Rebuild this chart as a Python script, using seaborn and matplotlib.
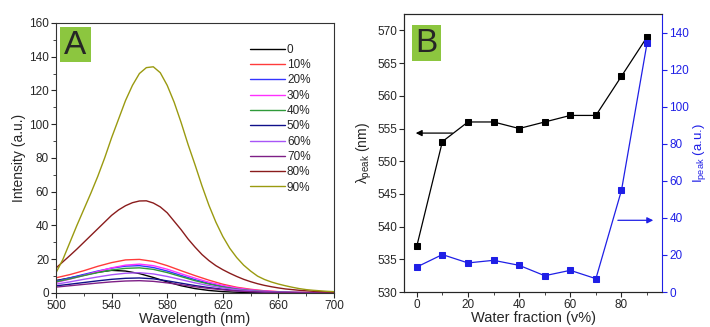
import numpy as np
import pandas as pd
import seaborn as sns
import matplotlib.pyplot as plt
from matplotlib.patches import Rectangle
from matplotlib.ticker import MultipleLocator

# panel A: emission spectra
# weaker curves at 10 nm steps
wavelength = [500, 510, 520, 530, 540, 550, 560, 570, 580, 590, 600,
              610, 620, 630, 640, 650, 660, 670, 680, 690, 700]
w0 = [7.4, 8.9, 10.6, 12.3, 13.4, 13.0, 11.5, 9.2, 6.6, 4.3, 2.6,
      1.5, 0.8, 0.45, 0.25, 0.15, 0.1, 0.07, 0.05, 0.04, 0.03]
w10 = [9.0, 10.9, 13.2, 15.8, 18.0, 19.6, 19.9, 18.7, 16.2, 13.2, 10.3,
       7.6, 5.2, 3.4, 2.2, 1.3, 0.8, 0.5, 0.3, 0.2, 0.1]
w20 = [7.0, 9.0, 11.0, 13.0, 14.7, 15.9, 16.2, 15.1, 13.0, 10.4, 7.9,
       5.7, 3.9, 2.5, 1.6, 0.95, 0.6, 0.35, 0.22, 0.14, 0.08]
w30 = [6.3, 8.2, 10.4, 12.7, 14.9, 16.5, 17.1, 16.2, 14.1, 11.4, 8.8,
       6.4, 4.5, 3.0, 1.9, 1.2, 0.7, 0.45, 0.28, 0.17, 0.1]
w40 = [6.6, 8.4, 10.3, 12.1, 13.6, 14.6, 14.9, 14.0, 12.1, 9.7, 7.3,
       5.3, 3.6, 2.3, 1.5, 0.9, 0.55, 0.33, 0.2, 0.12, 0.07]
w50 = [4.2, 5.2, 6.2, 7.2, 8.1, 8.7, 8.9, 8.4, 7.2, 5.8, 4.4,
       3.2, 2.2, 1.4, 0.9, 0.55, 0.33, 0.2, 0.12, 0.07, 0.04]
w60 = [5.2, 6.6, 8.1, 9.5, 10.8, 11.7, 12.0, 11.3, 9.8, 7.9, 6.0,
       4.4, 3.0, 2.0, 1.3, 0.8, 0.5, 0.3, 0.18, 0.1, 0.06]
w70 = [3.5, 4.3, 5.1, 5.9, 6.6, 7.1, 7.3, 6.9, 6.0, 4.9, 3.7,
       2.7, 1.9, 1.2, 0.8, 0.5, 0.3, 0.18, 0.1, 0.06, 0.04]

# strong curves at 5 nm steps
wavelength_fine = [500, 505, 510, 515, 520, 525, 530, 535, 540, 545, 550,
                   555, 560, 565, 570, 575, 580, 585, 590, 595, 600,
                   605, 610, 615, 620, 625, 630, 635, 640, 645, 650,
                   655, 660, 665, 670, 675, 680, 685, 690, 695, 700]
w80 = [14.8, 18.5, 22.2, 26.0, 30.0, 34.0, 38.0, 42.0, 46.0, 49.2, 51.7,
       53.5, 54.5, 54.6, 53.3, 51.0, 47.5, 42.5, 37.5, 32.0, 27.2,
       22.8, 19.2, 16.2, 13.8, 11.7, 9.8, 8.1, 6.7, 5.5, 4.5,
       3.7, 3.0, 2.4, 2.0, 1.6, 1.3, 1.0, 0.8, 0.65, 0.5]
w90 = [12.0, 20.0, 30.0, 40.0, 49.5, 59.0, 69.0, 80.0, 92.0, 103.0, 114.0,
       123.0, 130.0, 133.5, 134.0, 130.5, 123.0, 113.0, 101.0, 88.0, 76.0,
       63.5, 52.0, 42.0, 33.5, 26.5, 21.0, 16.5, 13.0, 10.0, 8.0,
       6.5, 5.3, 4.3, 3.4, 2.6, 2.0, 1.6, 1.3, 1.0, 0.8]

labels = ["0", "10%", "20%", "30%", "40%", "50%", "60%", "70%", "80%", "90%"]
colors = ["#000000", "#ff3b3b", "#3434ff", "#ff30ff", "#2f9a3a",
          "#10108a", "#a855f7", "#7e1f86", "#8a1c1c", "#9a9a10"]
spectra = [w0, w10, w20, w30, w40, w50, w60, w70, w80, w90]
grids = [wavelength] * 8 + [wavelength_fine] * 2

# panel B: peak position and intensity vs water fraction
water = [0, 10, 20, 30, 40, 50, 60, 70, 80, 90]
lam_peak = [537, 553, 556, 556, 555, 556, 557, 557, 563, 569]
i_peak = [13.5, 20.2, 15.7, 17.1, 14.4, 8.8, 11.7, 7.2, 54.9, 134.4]

rows = []
for lab, grid, vals in zip(labels, grids, spectra):
    for wl, v in zip(grid, vals):
        rows.append((wl, v, lab))
df = pd.DataFrame(rows, columns=["wavelength", "intensity", "water"])
dfb = pd.DataFrame({"water": water, "lam": lam_peak, "ipk": i_peak})

sns.set_style("ticks")
plt.rcParams["font.family"] = ["Liberation Sans", "DejaVu Sans"]
plt.rcParams["mathtext.fontset"] = "custom"
plt.rcParams["mathtext.rm"] = "Liberation Sans"
plt.rcParams["mathtext.it"] = "Liberation Sans"

fig = plt.figure(figsize=(7.1, 3.27), dpi=100)
axA = fig.add_axes([0.0789, 0.104, 0.3915, 0.826])
axB = fig.add_axes([0.569, 0.107, 0.364, 0.85])

sns.lineplot(data=df, x="wavelength", y="intensity", hue="water", hue_order=labels,
             palette=colors, linewidth=1.0, ax=axA)
axA.set_xlim(500, 700)
axA.set_ylim(0, 160)
axA.set_xticks([500, 540, 580, 620, 660, 700])
axA.xaxis.set_minor_locator(MultipleLocator(20))
axA.yaxis.set_major_locator(MultipleLocator(20))
axA.yaxis.set_minor_locator(MultipleLocator(10))
axA.set_xlabel("Wavelength (nm)", fontsize=10.5, labelpad=0)
axA.set_ylabel("Intensity (a.u.)", fontsize=10, labelpad=2)
leg = axA.legend(loc="upper left", bbox_to_anchor=(0.68, 0.94), frameon=False,
                 fontsize=8.5, handlelength=3.0, handletextpad=0.15,
                 labelspacing=0.28, borderaxespad=0)
axA.add_patch(Rectangle((0.014, 0.856), 0.112, 0.129, transform=axA.transAxes,
                        facecolor="#8cc63f", edgecolor="none", zorder=5))
axA.text(0.07, 0.918, "A", transform=axA.transAxes, ha="center", va="center",
         fontsize=24, zorder=6)

sns.lineplot(data=dfb, x="water", y="lam", color="black", marker="s",
             markersize=4, markeredgecolor="black", linewidth=0.9, ax=axB)
axB.set_xlim(-5, 96)
axB.set_ylim(530, 572.5)
axB.xaxis.set_major_locator(MultipleLocator(20))
axB.xaxis.set_minor_locator(MultipleLocator(10))
axB.yaxis.set_major_locator(MultipleLocator(5))
axB.set_xlabel("Water fraction (v%)", fontsize=10.5, labelpad=0)
axB.set_ylabel(r"$\lambda_{\rm peak}$ (nm)", fontsize=10, labelpad=2)
axB.annotate("", xy=(-1.5, 554.3), xytext=(15, 554.3),
             arrowprops=dict(arrowstyle="-|>", color="black", lw=0.9,
                             mutation_scale=9))

axR = axB.twinx()
sns.lineplot(data=dfb, x="water", y="ipk", color="#1f1fe6", marker="s",
             markersize=4, markeredgecolor="#1f1fe6", linewidth=0.9, ax=axR)
axR.set_ylim(0, 150)
axR.yaxis.set_major_locator(MultipleLocator(20))
axR.set_ylabel(r"I$_{\rm peak}$ (a.u.)", fontsize=9.5, color="#1f1fe6", labelpad=1)
axR.tick_params(axis="y", colors="#1f1fe6")
axR.annotate("", xy=(93.5, 38.7), xytext=(77.5, 38.7),
             arrowprops=dict(arrowstyle="-|>", color="#1f1fe6", lw=0.9,
                             mutation_scale=9))
axB.add_patch(Rectangle((0.03, 0.831), 0.112, 0.129, transform=axB.transAxes,
                        facecolor="#8cc63f", edgecolor="none", zorder=5))
axB.text(0.086, 0.893, "B", transform=axB.transAxes, ha="center", va="center",
         fontsize=24, zorder=6)

for ax in (axA, axB, axR):
    for s in ax.spines.values():
        s.set_visible(True)
        s.set_linewidth(0.8)
    ax.tick_params(which="major", direction="out", length=3.5, width=0.8,
                   labelsize=8.5, pad=1.5)
    ax.tick_params(which="minor", direction="out", length=2, width=0.6)
for s in ("left", "right", "top", "bottom"):
    axA.spines[s].set_color("#333333")
axB.spines["right"].set_visible(False)
axR.spines["right"].set_color("#1f1fe6")
axA.tick_params(top=False, right=False)

fig.savefig("out.png", dpi=100)
